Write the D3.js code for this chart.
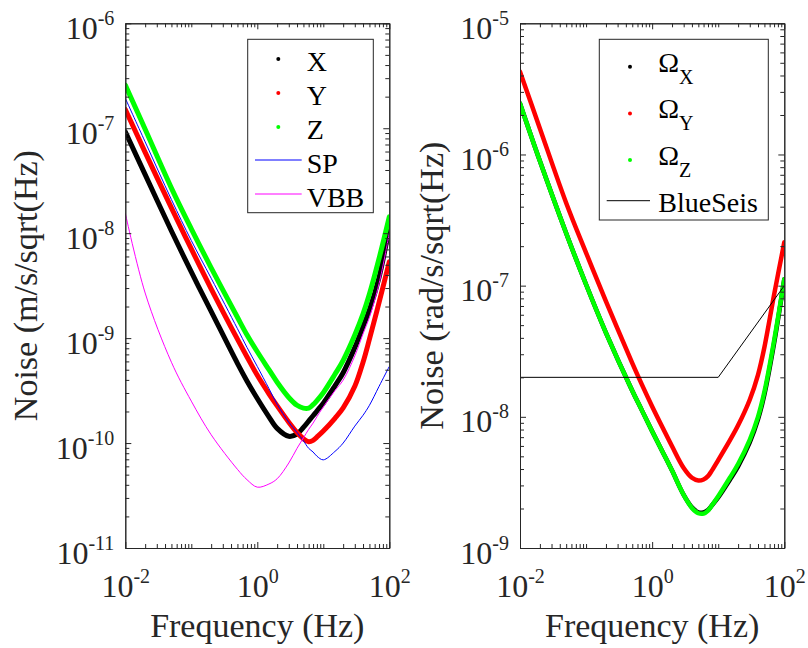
<!DOCTYPE html>
<html><head><meta charset="utf-8">
<script src="https://cdn.jsdelivr.net/npm/d3@7/dist/d3.min.js"></script>
<style>
html,body{margin:0;padding:0;background:#fff;}
svg{display:block;}
svg text{font-family:"Liberation Serif","Times New Roman",Tinos,"DejaVu Serif",serif;}
</style></head><body>
<svg id="chart" width="808" height="648"></svg>
<script>
// ---------- DATA ----------
const freqs = [0.01,0.02,0.05,0.1,0.2,0.5,0.7,1,1.5,2,3,4,5,6,7,8,10,15,20,30,40,50,70,100];

// left panel: translational noise (m/s/sqrt(Hz))
const noiseX   = [9.27e-8,3.61e-8,1.05e-8,4.27e-9,1.80e-9,5.75e-10,3.89e-10,2.66e-10,1.78e-10,1.38e-10,1.16e-10,1.22e-10,1.41e-10,1.62e-10,1.82e-10,2.02e-10,2.40e-10,3.51e-10,4.68e-10,8.13e-10,1.29e-9,1.86e-9,3.80e-9,1.15e-8];
const noiseY   = [1.51e-7,5.89e-8,1.74e-8,7.08e-9,2.95e-9,9.77e-10,6.61e-10,4.42e-10,2.95e-10,2.26e-10,1.58e-10,1.26e-10,1.10e-10,1.03e-10,1.06e-10,1.14e-10,1.30e-10,1.72e-10,2.16e-10,3.47e-10,5.89e-10,9.77e-10,2.19e-9,5.33e-9];
const noiseZ   = [2.58e-7,9.77e-8,2.69e-8,1.10e-8,4.68e-9,1.58e-9,1.07e-9,7.41e-10,5.01e-10,3.80e-10,2.72e-10,2.29e-10,2.15e-10,2.15e-10,2.32e-10,2.54e-10,3.02e-10,4.52e-10,6.14e-10,1.07e-9,1.70e-9,2.63e-9,5.75e-9,1.43e-8];
const noiseSP  = [1.93e-7,7.41e-8,2.09e-8,8.51e-9,3.72e-9,1.23e-9,8.13e-10,5.37e-10,3.31e-10,2.34e-10,1.58e-10,1.26e-10,1.05e-10,8.91e-11,8.22e-11,7.50e-11,6.92e-11,8.32e-11,1.00e-10,1.45e-10,1.84e-10,2.29e-10,3.47e-10,5.37e-10];
const noiseVBB = [1.55e-8,2.69e-9,5.89e-10,2.51e-10,1.20e-10,5.62e-11,4.47e-11,3.80e-11,4.07e-11,4.57e-11,6.46e-11,8.91e-11,1.12e-10,1.35e-10,1.55e-10,1.78e-10,2.21e-10,3.16e-10,3.98e-10,6.76e-10,1.10e-9,1.58e-9,3.31e-9,1.00e-8];

// right panel: rotational noise (rad/s/sqrt(Hz))
const rotX = [2.45e-6,8.91e-7,2.51e-7,1.02e-7,4.37e-8,1.58e-8,1.12e-8,7.76e-9,5.19e-9,3.89e-9,2.54e-9,2.04e-9,1.87e-9,1.87e-9,1.95e-9,2.11e-9,2.43e-9,3.31e-9,4.19e-9,6.38e-9,9.55e-9,1.48e-8,3.63e-8,1.12e-7];
const rotY = [4.28e-6,1.58e-6,4.27e-7,1.78e-7,7.59e-8,2.57e-8,1.76e-8,1.20e-8,7.94e-9,5.96e-9,4.07e-9,3.43e-9,3.27e-9,3.33e-9,3.53e-9,3.89e-9,4.68e-9,6.61e-9,8.61e-9,1.35e-8,2.09e-8,3.39e-8,8.51e-8,2.14e-7];
const rotZ = [2.45e-6,8.91e-7,2.51e-7,1.02e-7,4.37e-8,1.58e-8,1.12e-8,7.76e-9,5.19e-9,3.89e-9,2.54e-9,2.02e-9,1.84e-9,1.83e-9,1.93e-9,2.11e-9,2.48e-9,3.43e-9,4.37e-9,6.68e-9,1.00e-8,1.55e-8,3.80e-8,1.12e-7];
const blueSeisFreq  = [0.01, 10, 100];
const blueSeisNoise = [2e-8, 2e-8, 1e-7];

// tick labels (exponents of 10)
const xTickExps      = [-2, 0, 2];
const leftYTickExps  = [-11, -10, -9, -8, -7, -6];
const rightYTickExps = [-9, -8, -7, -6, -5];

const leftLegendLabels  = ["X", "Y", "Z", "SP", "VBB"];
const rightLegendLabels = ["X", "Y", "Z", "BlueSeis"];

// ---------- DRAWING ----------
const AX = "#262626";
const svg = d3.select("#chart");
const defs = svg.append("defs");

function minorTicks(e0, e1, skip) {
  const out = [];
  for (let e = e0; e < e1; e++) {
    for (let m = 1; m <= 9; m++) {
      if (m === 1 && (skip.includes(e) || e === e0)) continue;
      out.push(m * Math.pow(10, e));
    }
  }
  return out;
}

function supLabel(textSel, e, rise) {
  textSel.text(null);
  textSel.append("tspan").text("10");
  textSel.append("tspan").attr("dy", -rise).attr("font-size", 20).text(String(e));
}

function styleAxis(g) {
  g.attr("font-family", null);
  g.selectAll("path, line").attr("stroke", AX).attr("stroke-width", 1);
  g.selectAll("text").attr("fill", AX);
}

function drawPanel(cfg) {
  const x = d3.scaleLog().domain([0.01, 100]).range([cfg.left, cfg.right]);
  const y = d3.scaleLog().domain(cfg.yDomain).range([cfg.bottom, cfg.top]);
  const g = svg.append("g");

  defs.append("clipPath").attr("id", "clip" + cfg.id)
    .append("rect").attr("x", cfg.left).attr("y", cfg.top)
    .attr("width", cfg.right - cfg.left).attr("height", cfg.bottom - cfg.top);

  const plot = g.append("g").attr("clip-path", `url(#clip${cfg.id})`);
  const line = d3.line().x(d => x(d[0])).y(d => y(d[1])).curve(d3.curveCatmullRom.alpha(0.5));
  cfg.series.forEach(s => {
    plot.append("path")
      .datum(s.f.map((f, i) => [f, s.v[i]]))
      .attr("d", s.straight ? d3.line().x(d => x(d[0])).y(d => y(d[1])) : line)
      .attr("fill", "none")
      .attr("stroke", s.color)
      .attr("stroke-width", s.width)
      .attr("stroke-linejoin", "round")
      .attr("stroke-linecap", s.width > 2 ? "round" : "butt");
  });

  const xMajor = xTickExps.map(e => Math.pow(10, e));
  const xMinor = minorTicks(-2, 2, xTickExps);
  const yExps = cfg.yExps;
  const yMajor = yExps.map(e => Math.pow(10, e));
  const yMinor = minorTicks(yExps[0], yExps[yExps.length - 1], yExps);

  const gb1 = g.append("g").attr("transform", `translate(0,${cfg.bottom})`)
    .call(d3.axisBottom(x).tickValues(xMinor).tickSize(-4).tickSizeOuter(0).tickFormat(""));
  const gb2 = g.append("g").attr("transform", `translate(0,${cfg.bottom})`)
    .call(d3.axisBottom(x).tickValues(xMajor).tickSize(-6).tickSizeOuter(0));
  gb2.selectAll(".tick text")
    .attr("y", 49).attr("dy", 0).attr("font-size", 32)
    .each(function(d) { supLabel(d3.select(this), Math.round(Math.log10(d)), 14); });
  const gt1 = g.append("g").attr("transform", `translate(0,${cfg.top})`)
    .call(d3.axisTop(x).tickValues(xMinor).tickSize(-4).tickSizeOuter(0).tickFormat(""));
  const gt2 = g.append("g").attr("transform", `translate(0,${cfg.top})`)
    .call(d3.axisTop(x).tickValues(xMajor).tickSize(-6).tickSizeOuter(0).tickFormat(""));
  const gl1 = g.append("g").attr("transform", `translate(${cfg.left},0)`)
    .call(d3.axisLeft(y).tickValues(yMinor).tickSize(-4).tickSizeOuter(0).tickFormat(""));
  const gl2 = g.append("g").attr("transform", `translate(${cfg.left},0)`)
    .call(d3.axisLeft(y).tickValues(yMajor).tickSize(-6).tickSizeOuter(0));
  gl2.selectAll(".tick text")
    .attr("x", -11).attr("y", 15).attr("dy", 0).attr("font-size", 32)
    .attr("text-anchor", "end")
    .each(function(d) { supLabel(d3.select(this), Math.round(Math.log10(d)), 14); });
  const gr1 = g.append("g").attr("transform", `translate(${cfg.right},0)`)
    .call(d3.axisRight(y).tickValues(yMinor).tickSize(-4).tickSizeOuter(0).tickFormat(""));
  const gr2 = g.append("g").attr("transform", `translate(${cfg.right},0)`)
    .call(d3.axisRight(y).tickValues(yMajor).tickSize(-6).tickSizeOuter(0).tickFormat(""));
  [gb1, gb2, gt1, gt2, gl1, gl2, gr1, gr2].forEach(styleAxis);

  g.append("text")
    .attr("x", (cfg.left + cfg.right) / 2).attr("y", 637)
    .attr("text-anchor", "middle").attr("font-size", 34)
    .attr("fill", AX).text("Frequency (Hz)");
  g.append("text")
    .attr("transform", `translate(${cfg.yTitleX},${(cfg.top + cfg.bottom) / 2}) rotate(-90)`)
    .attr("text-anchor", "middle").attr("font-size", 34)
    .attr("fill", AX).text(cfg.yTitle);

  const L = cfg.legend;
  const lg = g.append("g");
  lg.append("rect").attr("x", L.x).attr("y", L.y).attr("width", L.w).attr("height", L.h)
    .attr("fill", "#fff").attr("stroke", AX).attr("stroke-width", 1);
  L.items.forEach(it => {
    const base = it.baseline;
    if (it.type === "dot") {
      lg.append("circle").attr("cx", L.markX).attr("cy", base + it.markDy).attr("r", 2).attr("fill", it.color);
    } else {
      lg.append("line").attr("x1", L.lineX1).attr("x2", L.lineX2)
        .attr("y1", base + it.markDy).attr("y2", base + it.markDy)
        .attr("stroke", it.color).attr("stroke-width", 1);
    }
    const t = lg.append("text").attr("x", L.textX).attr("y", base).attr("font-size", 28).attr("fill", "#000");
    if (it.omega) {
      t.append("tspan").text("\u03A9");
      t.append("tspan").attr("dy", 12).attr("font-size", 20).text(it.label);
    } else {
      t.text(it.label);
    }
  });
}

drawPanel({
  id: "L", left: 125.3, right: 389.3, top: 23.3, bottom: 548,
  yDomain: [1e-11, 1e-6], yExps: leftYTickExps,
  yTitle: "Noise (m/s/sqrt(Hz)", yTitleX: 37,
  series: [
    {f: freqs, v: noiseX,   color: "#000000", width: 5},
    {f: freqs, v: noiseY,   color: "#ff0000", width: 5},
    {f: freqs, v: noiseZ,   color: "#00ff00", width: 5},
    {f: freqs, v: noiseSP,  color: "#0000ff", width: 1},
    {f: freqs, v: noiseVBB, color: "#ff00ff", width: 1}
  ],
  legend: {
    x: 247.7, y: 39.3, w: 125.6, h: 173.4, markX: 278.3, lineX1: 255, lineX2: 301.7, textX: 306.7,
    items: leftLegendLabels.map((lab, i) => ({
      label: lab, baseline: 70.5 + i * 34,
      type: i < 3 ? "dot" : "line",
      markDy: i < 3 ? -11.5 : -12.5,
      color: ["#000000", "#ff0000", "#00ff00", "#0000ff", "#ff00ff"][i]
    }))
  }
});

drawPanel({
  id: "R", left: 520, right: 784.3, top: 23.3, bottom: 548,
  yDomain: [1e-9, 1e-5], yExps: rightYTickExps,
  yTitle: "Noise (rad/s/sqrt(Hz)", yTitleX: 443,
  series: [
    {f: freqs, v: rotX, color: "#000000", width: 4.5},
    {f: freqs, v: rotY, color: "#ff0000", width: 4.5},
    {f: freqs, v: rotZ, color: "#00ff00", width: 4.5},
    {f: blueSeisFreq, v: blueSeisNoise, color: "#000000", width: 1, straight: true}
  ],
  legend: {
    x: 599.3, y: 39.3, w: 169, h: 180.7, markX: 630, lineX1: 606.7, lineX2: 650, textX: 658.3,
    items: rightLegendLabels.map((lab, i) => ({
      label: lab, omega: i < 3,
      baseline: i < 3 ? 71.7 + i * 46.7 : 211.7,
      type: i < 3 ? "dot" : "line",
      markDy: i < 3 ? -5 : -11,
      color: ["#000000", "#ff0000", "#00ff00", "#000000"][i]
    }))
  }
});
</script>
</body></html>
